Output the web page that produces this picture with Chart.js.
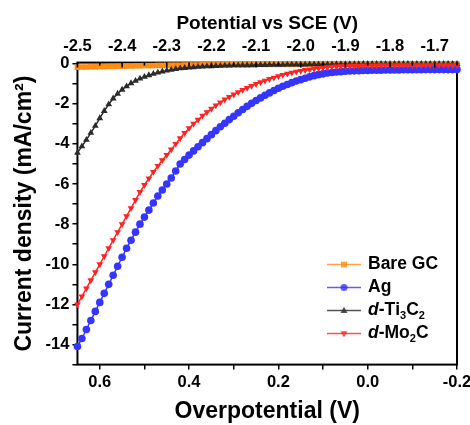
<!DOCTYPE html>
<html>
<head>
<meta charset="utf-8">
<script src="https://cdn.jsdelivr.net/npm/chart.js@4.4.0/dist/chart.umd.min.js"></script>
<style>
  html, body { margin: 0; padding: 0; background: #fff; }
  #wrap { width: 470px; height: 425px; }
</style>
</head>
<body>
<div id="wrap"><canvas id="line-chart"></canvas></div>
<script>
// overpotential (V), bottom axis
var overpotential = [
  0.65, 0.64, 0.63, 0.62, 0.61, 0.60, 0.59, 0.58, 0.57, 0.56,
  0.55, 0.54, 0.53, 0.52, 0.51, 0.50, 0.49, 0.48, 0.47, 0.46,
  0.45, 0.44, 0.43, 0.42, 0.41, 0.40, 0.39, 0.38, 0.37, 0.36,
  0.35, 0.34, 0.33, 0.32, 0.31, 0.30, 0.29, 0.28, 0.27, 0.26,
  0.25, 0.24, 0.23, 0.22, 0.21, 0.20, 0.19, 0.18, 0.17, 0.16,
  0.15, 0.14, 0.13, 0.12, 0.11, 0.10, 0.09, 0.08, 0.07, 0.06,
  0.05, 0.04, 0.03, 0.02, 0.01, 0.00,
  -0.01, -0.02, -0.03, -0.04, -0.05, -0.06, -0.07, -0.08, -0.09, -0.10,
  -0.11, -0.12, -0.13, -0.14, -0.15, -0.16, -0.17, -0.18, -0.19, -0.20
];

// current density (mA/cm2)
var bareGC = [
  -0.18, -0.17, -0.17, -0.16, -0.16, -0.15, -0.15, -0.14, -0.14, -0.13,
  -0.13, -0.12, -0.12, -0.11, -0.11, -0.10, -0.10, -0.10, -0.09, -0.09,
  -0.09, -0.08, -0.08, -0.08, -0.07, -0.07, -0.07, -0.07, -0.06, -0.06,
  -0.06, -0.06, -0.06, -0.05, -0.05, -0.05, -0.05, -0.05, -0.05, -0.04,
  -0.04, -0.04, -0.04, -0.04, -0.04, -0.04, -0.04, -0.04, -0.04, -0.04,
  -0.04, -0.03, -0.03, -0.03, -0.03, -0.03, -0.03, -0.03, -0.03, -0.03,
  -0.03, -0.03, -0.03, -0.02, -0.02, -0.02,
  -0.02, -0.02, -0.02, -0.02, -0.02, -0.02, -0.02, -0.02, -0.02, -0.02,
  -0.02, -0.02, -0.02, -0.02, -0.02, -0.02, -0.02, -0.02, -0.02, -0.02
];
var ag = [
  -14.1, -13.7, -13.25, -12.8, -12.35, -11.9, -11.45, -11.0, -10.55, -10.1,
  -9.65, -9.2, -8.8, -8.4, -8.0, -7.65, -7.3, -6.95, -6.6, -6.3,
  -6.0, -5.7, -5.35, -5.0, -4.78, -4.56, -4.35, -4.14, -3.94, -3.74,
  -3.54, -3.34, -3.15, -2.97, -2.79, -2.62, -2.45, -2.29, -2.13, -1.98,
  -1.84, -1.71, -1.58, -1.46, -1.34, -1.23, -1.13, -1.04, -0.95, -0.87,
  -0.80, -0.73, -0.66, -0.60, -0.55, -0.51, -0.47, -0.44, -0.42, -0.40,
  -0.38, -0.37, -0.36, -0.35, -0.34, -0.34,
  -0.33, -0.33, -0.33, -0.32, -0.32, -0.32, -0.32, -0.31, -0.31, -0.31,
  -0.31, -0.31, -0.30, -0.30, -0.30, -0.30, -0.30, -0.30, -0.30, -0.30
];
var ti3c2 = [
  -4.45, -4.12, -3.8, -3.45, -3.1, -2.72, -2.36, -2.03, -1.74, -1.5,
  -1.3, -1.13, -0.98, -0.86, -0.75, -0.66, -0.58, -0.51, -0.45, -0.39,
  -0.35, -0.31, -0.27, -0.24, -0.22, -0.20, -0.18, -0.16, -0.15, -0.14,
  -0.13, -0.12, -0.11, -0.10, -0.10, -0.09, -0.09, -0.08, -0.08, -0.08,
  -0.07, -0.07, -0.07, -0.06, -0.06, -0.06, -0.06, -0.05, -0.05, -0.05,
  -0.05, -0.05, -0.04, -0.04, -0.04, -0.04, -0.04, -0.04, -0.03, -0.03,
  -0.03, -0.03, -0.03, -0.03, -0.02, -0.02,
  -0.02, -0.02, -0.02, -0.02, -0.02, -0.02, -0.02, -0.02, -0.02, -0.02,
  -0.02, -0.02, -0.02, -0.02, -0.02, -0.02, -0.02, -0.02, -0.02, -0.02
];
var mo2c = [
  -12.0, -11.6, -11.2, -10.8, -10.4, -10.0, -9.6, -9.2, -8.8, -8.4,
  -8.0, -7.6, -7.2, -6.8, -6.4, -6.05, -5.72, -5.4, -5.1, -4.82,
  -4.55, -4.28, -4.0, -3.72, -3.46, -3.22, -3.0, -2.8, -2.6, -2.42,
  -2.25, -2.08, -1.93, -1.79, -1.66, -1.54, -1.42, -1.31, -1.21, -1.11,
  -1.02, -0.93, -0.85, -0.77, -0.70, -0.63, -0.56, -0.50, -0.45, -0.40,
  -0.36, -0.32, -0.29, -0.26, -0.23, -0.20, -0.18, -0.16, -0.14, -0.13,
  -0.12, -0.11, -0.10, -0.10, -0.09, -0.09,
  -0.09, -0.09, -0.08, -0.08, -0.08, -0.08, -0.08, -0.08, -0.08, -0.08,
  -0.08, -0.08, -0.08, -0.08, -0.08, -0.08, -0.08, -0.08, -0.08, -0.08
];

var etichette = ["Bare GC", "Ag", "d-Ti3C2", "d-Mo2C"];
var colori = ["#ff8c14", "#3535ff", "#2b2b2b", "#ff2424"];

function punti(valori)
{
  return valori.map(function(v, i) { return { x: overpotential[i], y: v }; });
}

function marcatore(ctx, stile, x, y, r)
{
  ctx.beginPath();
  if (stile == 'circle') {
    ctx.arc(x, y, r, 0, Math.PI * 2);
  } else if (stile == 'rect') {
    ctx.rect(x - r * 0.85, y - r * 0.85, r * 1.7, r * 1.7);
  } else if (stile == 'up') {
    ctx.moveTo(x, y - r * 1.1);
    ctx.lineTo(x + r, y + r * 0.7);
    ctx.lineTo(x - r, y + r * 0.7);
  } else {
    ctx.moveTo(x, y + r * 1.1);
    ctx.lineTo(x + r, y - r * 0.7);
    ctx.lineTo(x - r, y - r * 0.7);
  }
  ctx.closePath();
  ctx.fill();
}

// draws "d-Ti3C2" with italic d and subscript digits
function testoLegenda(ctx, testo, x, y, size)
{
  var cx = x;
  var resto = testo;
  ctx.textBaseline = 'middle';
  ctx.textAlign = 'left';
  if (testo.indexOf('d-') == 0) {
    ctx.font = 'italic bold ' + size + 'px "Liberation Sans", Arial, sans-serif';
    ctx.fillText('d', cx, y);
    cx += ctx.measureText('d').width;
    resto = testo.substring(1);
  }
  for (var i = 0; i < resto.length; i++) {
    var c = resto[i];
    if (c >= '0' && c <= '9') {
      ctx.font = 'bold ' + Math.round(size * 0.62) + 'px "Liberation Sans", Arial, sans-serif';
      ctx.fillText(c, cx, y + size * 0.32);
    } else {
      ctx.font = 'bold ' + size + 'px "Liberation Sans", Arial, sans-serif';
      ctx.fillText(c, cx, y);
    }
    cx += ctx.measureText(c).width;
  }
}

var cornice = {
  id: 'cornice',
  beforeDatasetsDraw: function(chart) {
    var a = chart.chartArea, ctx = chart.ctx;
    ctx.save();
    ctx.strokeStyle = '#000';
    ctx.lineWidth = 2;
    ctx.strokeRect(a.left, a.top, a.right - a.left, a.bottom - a.top);
    ctx.restore();
  },
  afterDatasetsDraw: function(chart) {
    var a = chart.chartArea, ctx = chart.ctx;
    var stili = ['rect', 'circle', 'up', 'down'];
    ctx.save();
    // top axis ticks point into the plot
    var sup = chart.scales.x2;
    ctx.strokeStyle = '#000';
    ctx.lineWidth = 1.6;
    for (var k = 0; k < sup.ticks.length; k++) {
      var px = sup.getPixelForValue(sup.ticks[k].value);
      var lung = sup.ticks[k].label === '' ? 3 : 5;
      ctx.beginPath();
      ctx.moveTo(px, a.top);
      ctx.lineTo(px, a.top + lung);
      ctx.stroke();
    }
    for (var i = 0; i < etichette.length; i++) {
      var y = a.bottom - 100 + i * 23;
      var x0 = a.right - 130;
      ctx.strokeStyle = colori[i];
      ctx.globalAlpha = 0.8;
      ctx.lineWidth = 1.5;
      ctx.beginPath();
      ctx.moveTo(x0, y);
      ctx.lineTo(x0 + 34, y);
      ctx.stroke();
      ctx.fillStyle = colori[i];
      marcatore(ctx, stili[i], x0 + 17, y, 3.5);
      ctx.globalAlpha = 1;
      ctx.fillStyle = '#000';
      testoLegenda(ctx, etichette[i], x0 + 41, y, 17.5);
    }
    ctx.restore();
  }
};

function disegnaGrafico()
{
  var fontTick = { family: '"Liberation Sans", Arial, sans-serif', size: 16.5, weight: 'bold' };
  var fontTitolo = { family: '"Liberation Sans", Arial, sans-serif', size: 23, weight: 'bold' };
  var serie = [bareGC, ag, ti3c2, mo2c];
  var forme = ['rect', 'circle', 'triangle', 'triangle'];
  var rotazioni = [0, 0, 0, 180];
  var datasets = serie.map(function(s, i) {
    return {
      label: etichette[i],
      data: punti(s),
      borderColor: colori[i],
      backgroundColor: colori[i],
      borderWidth: 1.5,
      pointStyle: forme[i],
      pointRotation: rotazioni[i],
      pointRadius: forme[i] == 'circle' ? 3.8 : 3.9,
      pointBorderWidth: 0,
      order: 4 - i,
      clip: false,
      fill: false
    };
  });

  new Chart(document.getElementById("line-chart"),
  {
    type: 'line',
    data: { datasets: datasets },
    plugins: [cornice],
    options:
    {
      responsive: true,
      maintainAspectRatio: false,
      animation: false,
      layout: { padding: { left: 11, right: 13, top: 8, bottom: 0 } },
      plugins: { legend: { display: false }, tooltip: { enabled: false } },
      scales:
      {
        x: {
          type: 'linear', position: 'bottom', reverse: true,
          min: -0.2, max: 0.65,
          border: { display: false },
          grid: { drawOnChartArea: false, color: '#000', tickLength: 5, lineWidth: 1.5 },
          ticks: {
            stepSize: 0.1, includeBounds: false, color: '#000', font: fontTick, padding: 3,
            maxRotation: 0, autoSkip: false,
            callback: function(v) { return Math.round(v * 10) % 2 == 0 ? v.toFixed(1) : ''; }
          },
          title: { display: true, text: 'Overpotential (V)', color: '#000', font: fontTitolo, padding: { top: 2, bottom: 0 } },
          afterFit: function(scale) { scale.paddingRight = 0; scale.paddingLeft = 0; }
        },
        x2: {
          type: 'linear', position: 'top',
          min: -2.5, max: -1.65,
          border: { display: false },
          grid: { display: false, drawTicks: false, tickLength: 0 },
          ticks: {
            stepSize: 0.05, includeBounds: false, color: '#000', font: fontTick, padding: 6,
            maxRotation: 0, autoSkip: false,
            callback: function(v) { return Math.round(v * 100) % 10 == 0 ? v.toFixed(1) : ''; }
          },
          title: { display: true, text: 'Potential vs SCE (V)', color: '#000',
                   font: { family: fontTitolo.family, size: 19, weight: 'bold' }, padding: { top: 4, bottom: -4 } },
          afterFit: function(scale) { scale.paddingRight = 0; scale.paddingLeft = 0; }
        },
        y: {
          type: 'linear', min: -15, max: 0.05,
          border: { display: false },
          grid: { drawOnChartArea: false, color: '#000', tickLength: 5, lineWidth: 1.5 },
          ticks: {
            stepSize: 1, includeBounds: false, color: '#000', font: fontTick, padding: 3,
            autoSkip: false,
            callback: function(v) { return Math.round(v) % 2 == 0 ? String(Math.round(v)) : ''; }
          },
          title: { display: true, text: 'Current density (mA/cm²)', color: '#000', font: fontTitolo, padding: { top: 0, bottom: 4 } }
        }
      }
    }
  });
}

disegnaGrafico();
</script>
</body>
</html>
